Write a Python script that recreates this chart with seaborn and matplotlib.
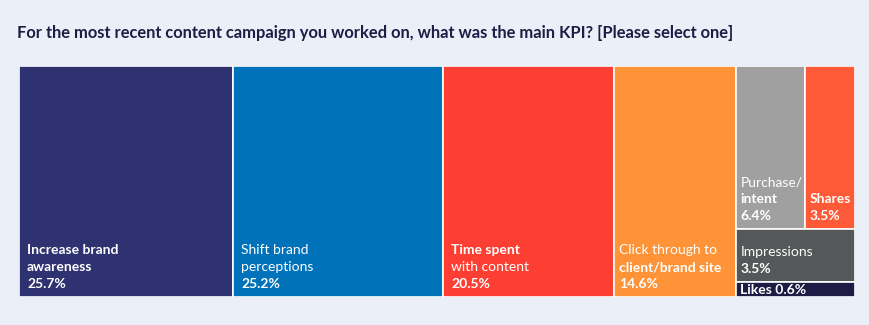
import matplotlib
matplotlib.use("Agg")
import matplotlib.pyplot as plt
import seaborn as sns
from matplotlib.patches import Rectangle
from matplotlib.transforms import offset_copy

sns.set_theme(style="white")
plt.rcParams['font.family'] = ['Lato', 'DejaVu Sans']

# ---- data ----
categories = ["Increase brand awareness", "Shift brand perceptions", "Time spent with content",
              "Click through to client/brand site", "Purchase/intent", "Shares",
              "Impressions", "Likes"]
values = [25.7, 25.2, 20.5, 14.6, 6.4, 3.5, 3.5, 0.6]
colors = ["#2f3270", "#0072b9", "#fd3f33", "#fe9437", "#a0a0a0", "#fe5a37", "#555859", "#1e1b44"]
# label lines: (text, bold?)
label_lines = [
    [("Increase brand", True), ("awareness", True)],
    [("Shift brand", False), ("perceptions", False)],
    [("Time spent", True), ("with content", False)],
    [("Click through to", False), ("client/brand site", True)],
    [("Purchase/", False), ("intent", True)],
    [("Shares", True)],
    [("Impressions", False)],
    [("Likes", True)],
]
title = "For the most recent content campaign you worked on, what was the main KPI? [Please select one]"

BG = "#ebeff7"
W, H = 869, 325
fig = plt.figure(figsize=(W / 100, H / 100), dpi=100, facecolor=BG)
L, R, T, B = 19, 855, 66, 297
ax = fig.add_axes([L / W, (H - B) / H, (R - L) / W, (B - T) / H])
ax.set_facecolor(BG)
AW, AH = R - L, B - T
ax.set_xlim(0, AW)
ax.set_ylim(0, AH)
ax.axis("off")

# ---- layout (slice-and-dice from values, with minimum tile sizes) ----
min_h = 15          # px, minimum height of a tile
min_w = 50          # px, minimum width of a tile
total = sum(values)
right = values[4:]
rsum = sum(right)
top_h = (right[0] + right[1]) / rsum * AH
likes_h = max(right[3] / rsum * AH, min_h)
# extra area taken by the inflated small tile, expressed in value units
extra = (likes_h - right[3] / rsum * AH) / AH * rsum
unit = AW / (total + extra)
rects = []
x = 0.0
for v in values[:4]:
    w = v * unit
    rects.append((x, 0.0, w, AH))
    x += w
colw = AW - x
imp_h = AH - top_h - likes_h
pw = min(right[0] / (right[0] + right[1]) * colw, colw - min_w)
rects.append((x, AH - top_h, pw, top_h))
rects.append((x + pw, AH - top_h, colw - pw, top_h))
rects.append((x, likes_h, colw, imp_h))
rects.append((x, 0.0, colw, likes_h))

for (rx, ry, rw, rh), c in zip(rects, colors):
    ax.add_patch(Rectangle((rx, ry), rw, rh, facecolor=c, edgecolor="white", linewidth=1.2))

fs = 10
lh = 17
for i, ((rx, ry, rw, rh), lines, v) in enumerate(zip(rects, label_lines, values)):
    pad = 8 if rw > 130 else 5
    if categories[i] == "Likes":
        tr = offset_copy(ax.transData, fig=fig, x=4, y=0, units="dots")
        ax.text(rx, ry + rh / 2 - 0.5, f"Likes {v}%", transform=tr, color="white",
                fontsize=fs, fontweight="bold", va="center", ha="left")
        continue
    all_lines = lines + [(f"{v}%", True)]
    n = len(all_lines)
    for k, (txt, bold) in enumerate(all_lines):
        tr = offset_copy(ax.transData, fig=fig, x=pad, y=9 + (n - 1 - k) * lh, units="dots")
        ax.text(rx, ry, txt, transform=tr, color="white", fontsize=fs,
                fontweight="bold" if bold else "normal", va="baseline", ha="left")

fig.text(17 / W, 1 - 38 / H, title, fontsize=11.9, fontweight="bold", color="#1f1d45",
         ha="left", va="baseline")

fig.savefig("out.png", dpi=100, facecolor=BG)
